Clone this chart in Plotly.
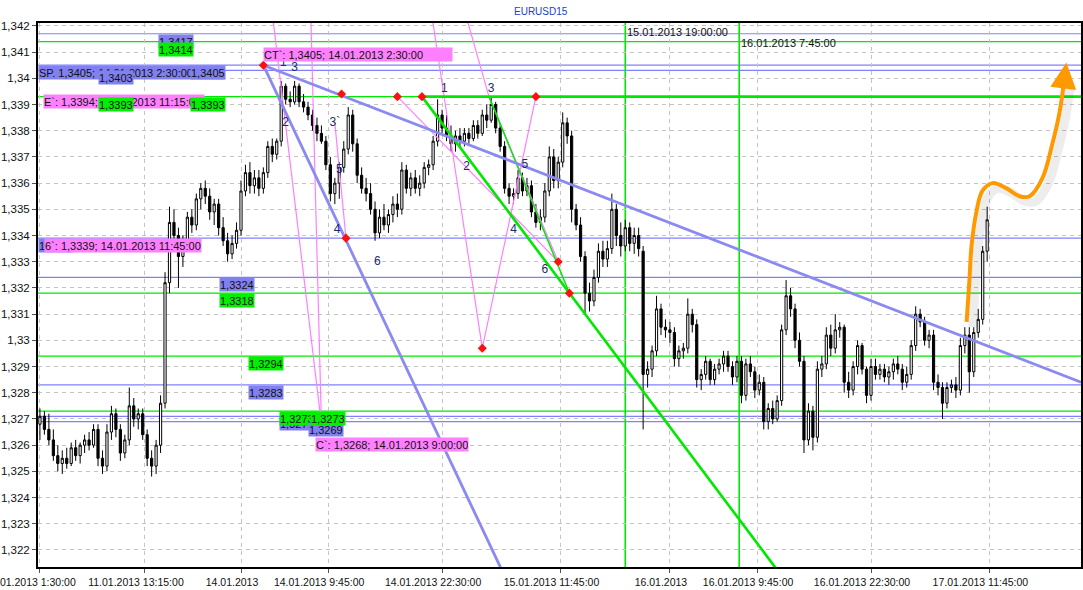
import pandas as pd
import plotly.graph_objects as go

# ---------------- data ----------------
bar_open = [
 1.3268,1.3271,1.3266,1.3262,1.3256,1.3253,1.3255,1.3253,1.3259,1.3256,
 1.3260,1.3262,1.3260,1.3266,1.3255,1.3252,1.3265,1.3272,1.3266,1.3257,
 1.3262,1.3275,1.3270,1.3272,1.3264,1.3255,1.3252,1.3260,1.3276,1.3322,
 1.3345,1.3340,1.3332,1.3338,1.3347,1.3344,1.3354,1.3358,1.3355,1.3349,
 1.3352,1.3343,1.3338,1.3333,1.3337,1.3342,1.3357,1.3364,1.3359,1.3362,
 1.3358,1.3364,1.3374,1.3371,1.3376,1.3397,1.3392,1.3391,1.3397,1.3391,
 1.3389,1.3386,1.3382,1.3379,1.3376,1.3367,1.3356,1.3360,1.3366,1.3373,
 1.3386,1.3375,1.3363,1.3358,1.3356,1.3350,1.3341,1.3347,1.3344,1.3348,
 1.3352,1.3350,1.3365,1.3358,1.3362,1.3358,1.3360,1.3366,1.3367,1.3376,
 1.3386,1.3381,1.3378,1.3375,1.3378,1.3376,1.3379,1.3377,1.3382,1.3379,
 1.3386,1.3384,1.3390,1.3381,1.3374,1.3358,1.3355,1.3356,1.3362,1.3357,
 1.3359,1.3349,1.3345,1.3347,1.3357,1.3370,1.3361,1.3368,1.3383,1.3378,
 1.3350,1.3344,1.3332,1.3318,1.3315,1.3324,1.3334,1.3331,1.3335,1.3350,
 1.3340,1.3336,1.3343,1.3337,1.3340,1.3334,1.3287,1.3289,1.3296,1.3312,
 1.3305,1.3304,1.3303,1.3293,1.3296,1.3297,1.3310,1.3306,1.3285,1.3287,
 1.3292,1.3285,1.3289,1.3291,1.3294,1.3290,1.3286,1.3292,1.3279,1.3291,
 1.3288,1.3281,1.3284,1.3269,1.3274,1.3270,1.3277,1.3304,1.3317,1.3312,
 1.3300,1.3292,1.3262,1.3273,1.3263,1.3289,1.3291,1.3302,1.3297,1.3304,
 1.3305,1.3284,1.3281,1.3290,1.3298,1.3289,1.3279,1.3290,1.3287,1.3289,
 1.3286,1.3288,1.3291,1.3289,1.3284,1.3287,1.3298,1.3310,1.3307,1.3300,
 1.3302,1.3284,1.3282,1.3276,1.3282,1.3283,1.3281,1.3298,1.3302,1.3288,
 1.3303,1.3308,1.3334]
bar_high = [
 1.3274,1.3273,1.3272,1.3266,1.3260,1.3258,1.3259,1.3261,1.3262,1.3261,
 1.3264,1.3265,1.3268,1.3268,1.3258,1.3268,1.3275,1.3274,1.3268,1.3264,
 1.3282,1.3278,1.3274,1.3274,1.3266,1.3258,1.3262,1.3279,1.3326,1.3351,
 1.3350,1.3343,1.3340,1.3349,1.3350,1.3356,1.3360,1.3361,1.3358,1.3354,
 1.3354,1.3347,1.3341,1.3340,1.3345,1.3361,1.3367,1.3368,1.3365,1.3365,
 1.3366,1.3376,1.3377,1.3377,1.3399,1.3398,1.3395,1.3399,1.3398,1.3394,
 1.3391,1.3388,1.3385,1.3382,1.3378,1.3370,1.3362,1.3368,1.3376,1.3389,
 1.3388,1.3377,1.3366,1.3362,1.3360,1.3353,1.3350,1.3352,1.3350,1.3355,
 1.3356,1.3368,1.3367,1.3364,1.3365,1.3363,1.3368,1.3369,1.3378,1.3392,
 1.3388,1.3386,1.3382,1.3380,1.3381,1.3381,1.3381,1.3384,1.3384,1.3388,
 1.3390,1.3393,1.3391,1.3383,1.3376,1.3360,1.3358,1.3365,1.3364,1.3362,
 1.3361,1.3352,1.3350,1.3360,1.3374,1.3373,1.3370,1.3387,1.3385,1.3380,
 1.3352,1.3347,1.3334,1.3322,1.3327,1.3337,1.3338,1.3338,1.3356,1.3352,
 1.3345,1.3346,1.3345,1.3343,1.3343,1.3336,1.3292,1.3298,1.3317,1.3314,
 1.3308,1.3307,1.3305,1.3298,1.3299,1.3316,1.3312,1.3308,1.3289,1.3294,
 1.3293,1.3291,1.3293,1.3296,1.3296,1.3292,1.3294,1.3294,1.3293,1.3294,
 1.3290,1.3287,1.3286,1.3276,1.3277,1.3279,1.3306,1.3323,1.3320,1.3314,
 1.3303,1.3294,1.3276,1.3275,1.3292,1.3294,1.3305,1.3306,1.3310,1.3307,
 1.3306,1.3288,1.3292,1.3300,1.3299,1.3290,1.3293,1.3293,1.3291,1.3291,
 1.3290,1.3293,1.3294,1.3291,1.3290,1.3300,1.3313,1.3312,1.3309,1.3304,
 1.3304,1.3287,1.3284,1.3284,1.3285,1.3286,1.3301,1.3305,1.3305,1.3305,
 1.3312,1.3336,1.3351]
bar_low = [
 1.3262,1.3264,1.3260,1.3254,1.3250,1.3249,1.3251,1.3252,1.3254,1.3253,
 1.3257,1.3258,1.3259,1.3252,1.3249,1.3250,1.3262,1.3263,1.3254,1.3255,
 1.3260,1.3267,1.3266,1.3262,1.3252,1.3248,1.3249,1.3257,1.3274,1.3318,
 1.3336,1.3320,1.3328,1.3336,1.3341,1.3342,1.3350,1.3352,1.3346,1.3344,
 1.3340,1.3336,1.3330,1.3331,1.3335,1.3340,1.3355,1.3356,1.3356,1.3355,
 1.3356,1.3362,1.3368,1.3369,1.3374,1.3390,1.3389,1.3390,1.3389,1.3387,
 1.3384,1.3380,1.3376,1.3375,1.3365,1.3353,1.3352,1.3354,1.3364,1.3371,
 1.3372,1.3360,1.3356,1.3353,1.3348,1.3338,1.3339,1.3342,1.3341,1.3345,
 1.3347,1.3348,1.3356,1.3355,1.3356,1.3355,1.3358,1.3363,1.3365,1.3374,
 1.3379,1.3376,1.3372,1.3372,1.3374,1.3374,1.3375,1.3376,1.3377,1.3378,
 1.3381,1.3383,1.3379,1.3372,1.3356,1.3352,1.3352,1.3354,1.3355,1.3355,
 1.3347,1.3343,1.3342,1.3345,1.3355,1.3358,1.3358,1.3366,1.3375,1.3345,
 1.3342,1.3330,1.3310,1.3311,1.3313,1.3322,1.3328,1.3328,1.3333,1.3336,
 1.3332,1.3334,1.3334,1.3333,1.3332,1.3266,1.3282,1.3286,1.3294,1.3302,
 1.3301,1.3299,1.3290,1.3290,1.3293,1.3295,1.3303,1.3282,1.3281,1.3285,
 1.3283,1.3283,1.3287,1.3288,1.3288,1.3283,1.3284,1.3276,1.3277,1.3286,
 1.3278,1.3279,1.3266,1.3266,1.3268,1.3269,1.3275,1.3302,1.3309,1.3297,
 1.3290,1.3257,1.3260,1.3258,1.3261,1.3286,1.3289,1.3294,1.3295,1.3301,
 1.3280,1.3278,1.3279,1.3287,1.3287,1.3276,1.3277,1.3285,1.3285,1.3284,
 1.3283,1.3285,1.3287,1.3281,1.3282,1.3285,1.3296,1.3305,1.3298,1.3297,
 1.3281,1.3279,1.3270,1.3274,1.3280,1.3278,1.3279,1.3295,1.3280,1.3286,
 1.3301,1.3306,1.3330]
bar_close = [
 1.3271,1.3266,1.3262,1.3256,1.3253,1.3255,1.3253,1.3259,1.3256,1.3260,
 1.3262,1.3260,1.3266,1.3255,1.3252,1.3265,1.3272,1.3266,1.3257,1.3262,
 1.3275,1.3270,1.3272,1.3264,1.3255,1.3252,1.3260,1.3276,1.3322,1.3345,
 1.3340,1.3332,1.3338,1.3347,1.3344,1.3354,1.3358,1.3355,1.3349,1.3352,
 1.3343,1.3338,1.3333,1.3337,1.3342,1.3357,1.3364,1.3359,1.3362,1.3358,
 1.3364,1.3374,1.3371,1.3376,1.3397,1.3392,1.3391,1.3397,1.3391,1.3389,
 1.3386,1.3382,1.3379,1.3376,1.3367,1.3356,1.3360,1.3366,1.3373,1.3386,
 1.3375,1.3363,1.3358,1.3356,1.3350,1.3341,1.3347,1.3344,1.3348,1.3352,
 1.3350,1.3365,1.3358,1.3362,1.3358,1.3360,1.3366,1.3367,1.3376,1.3386,
 1.3381,1.3378,1.3375,1.3378,1.3376,1.3379,1.3377,1.3382,1.3379,1.3386,
 1.3384,1.3390,1.3381,1.3374,1.3358,1.3355,1.3356,1.3362,1.3357,1.3359,
 1.3349,1.3345,1.3347,1.3357,1.3370,1.3361,1.3368,1.3383,1.3378,1.3350,
 1.3344,1.3332,1.3318,1.3315,1.3324,1.3334,1.3331,1.3335,1.3350,1.3340,
 1.3336,1.3343,1.3337,1.3340,1.3335,1.3287,1.3289,1.3296,1.3312,1.3305,
 1.3304,1.3303,1.3293,1.3296,1.3297,1.3310,1.3306,1.3285,1.3287,1.3292,
 1.3285,1.3289,1.3291,1.3294,1.3290,1.3286,1.3292,1.3279,1.3291,1.3288,
 1.3281,1.3284,1.3269,1.3274,1.3270,1.3277,1.3304,1.3317,1.3312,1.3300,
 1.3292,1.3262,1.3273,1.3263,1.3289,1.3291,1.3302,1.3297,1.3304,1.3305,
 1.3284,1.3281,1.3290,1.3298,1.3289,1.3279,1.3290,1.3287,1.3289,1.3286,
 1.3288,1.3291,1.3289,1.3284,1.3287,1.3298,1.3310,1.3307,1.3300,1.3302,
 1.3284,1.3282,1.3276,1.3282,1.3283,1.3281,1.3298,1.3302,1.3288,1.3303,
 1.3308,1.3334,1.3346]

# bar times: 30-minute bars, Friday 11.01 then from Monday 14.01 (weekend skipped)
friday = pd.date_range("2013-01-11 01:30", "2013-01-11 23:30", freq="30min")
rest = pd.date_range("2013-01-14 00:00", periods=len(bar_close) - len(friday), freq="30min")
bar_time = list(friday) + list(rest)

y_tick_vals = [1.322, 1.323, 1.324, 1.325, 1.326, 1.327, 1.328, 1.329, 1.330, 1.331,
               1.332, 1.333, 1.334, 1.335, 1.336, 1.337, 1.338, 1.339, 1.340, 1.341, 1.342]
y_tick_text = ["1,322", "1,323", "1,324", "1,325", "1,326", "1,327", "1,328", "1,329", "1,33", "1,331",
               "1,332", "1,333", "1,334", "1,335", "1,336", "1,337", "1,338", "1,339", "1,34", "1,341", "1,342"]
x_tick_vals = ["2013-01-11 01:30", "2013-01-11 13:15", "2013-01-14 00:00", "2013-01-14 09:45",
               "2013-01-14 22:30", "2013-01-15 11:45", "2013-01-16 00:00", "2013-01-16 09:45",
               "2013-01-16 22:30", "2013-01-17 11:45"]
x_tick_text = ["11.01.2013 1:30:00", "11.01.2013 13:15:00", "14.01.2013", "14.01.2013 9:45:00",
               "14.01.2013 22:30:00", "15.01.2013 11:45:00", "16.01.2013", "16.01.2013 9:45:00",
               "16.01.2013 22:30:00", "17.01.2013 11:45:00"]

# horizontal price levels
level_price = [1.3417, 1.3414, 1.3405, 1.3403, 1.3393, 1.3339, 1.3324, 1.3318, 1.3294, 1.3283, 1.3273, 1.3271, 1.3269]
level_kind = ["b", "g", "b", "b", "g", "b", "b", "g", "g", "b", "g", "b", "b"]

# vertical time lines
vline_time = ["2013-01-15 19:00", "2013-01-16 07:45"]
vline_text = ["15.01.2013 19:00:00", "16.01.2013 7:45:00"]

# price label boxes: text, kind, left time, top price, width
box_text = ["1,3417", "1,3414", "SP. 1,3405; 14.01.2013 2:30:00", "1,3403", "1,3405",
            "E`: 1,3394; 14.01.2013 11:15:00", "1,3393", "1,3393",
            "CT`: 1,3405; 14.01.2013 2:30:00", "1,3339", "6`: 1,3339; 14.01.2013 11:45:00",
            "1,3324", "1,3318", "1,3294", "1,3283", "1,3271", "1,3273", "1,3269", "1,3273",
            "C`: 1,3268; 14.01.2013 9:00:00"]
box_kind = ["b", "g", "b", "b", "b", "p", "g", "g", "p", "b", "p", "b", "g", "g", "b", "b", "g", "b", "g", "p"]
box_time = ["2013-01-11 14:45", "2013-01-11 14:45", "2013-01-11 01:17", "2013-01-11 08:00", "2013-01-11 18:15",
            "2013-01-11 01:50", "2013-01-11 08:00", "2013-01-11 18:15",
            "2013-01-14 02:30", "2013-01-11 01:17", "2013-01-11 01:55",
            "2013-01-11 21:30", "2013-01-11 21:30", "2013-01-14 00:45", "2013-01-14 00:45",
            "2013-01-14 04:15", "2013-01-14 04:15", "2013-01-14 07:30", "2013-01-14 07:45",
            "2013-01-14 08:15"]
box_price = [1.3417, 1.3414, 1.3405, 1.3403, 1.3405, 1.3394, 1.3393, 1.3393, 1.3412, 1.3339, 1.3339,
             1.3324, 1.3318, 1.3294, 1.3283, 1.3271, 1.3273, 1.3269, 1.3273, 1.3263]
box_width = [34, 34, 185, 34, 34, 160, 34, 34, 188, 34, 156, 34, 34, 34, 34, 34, 34, 34, 34, 152]

# trend lines
blue_lines = [
    (["2013-01-14 02:30", "2013-01-17 22:00"], [1.3405, 1.3284]),
    (["2013-01-14 02:30", "2013-01-15 06:45"], [1.3405, 1.3201]),
]
green_thick = [
    (["2013-01-14 20:15", "2013-01-16 14:30"], [1.3393, 1.3201]),
    (["2013-01-14 20:15", "2013-01-17 22:00"], [1.3393, 1.3393]),
]
green_thin = [(["2013-01-15 03:45", "2013-01-15 12:45"], [1.3393, 1.3318])]
pink_lines = [
    (["2013-01-14 03:15", "2013-01-14 09:00"], [1.3432, 1.3268]),
    (["2013-01-14 07:45", "2013-01-14 09:00"], [1.3432, 1.3268]),
    (["2013-01-14 10:30", "2013-01-14 11:45"], [1.3383, 1.3339]),
    (["2013-01-14 21:00", "2013-01-15 03:00", "2013-01-15 09:00"], [1.3432, 1.3297, 1.3393]),
    (["2013-01-14 17:30", "2013-01-15 11:30"], [1.3393, 1.3330]),
    (["2013-01-15 00:30", "2013-01-15 03:45", "2013-01-15 11:30"], [1.3432, 1.3393, 1.3330]),
]

dot_time = ["2013-01-14 02:30", "2013-01-14 11:15", "2013-01-14 11:45", "2013-01-14 17:30", "2013-01-14 20:15",
            "2013-01-15 09:00", "2013-01-15 03:00", "2013-01-15 11:30", "2013-01-15 12:45"]
dot_price = [1.3405, 1.3394, 1.3339, 1.3393, 1.3393, 1.3393, 1.3297, 1.3330, 1.3318]

wave_text = ["1", "3", "2", "3`", "5", "4", "6", "1", "3", "2", "5", "4", "6"]
wave_time = ["2013-01-14 04:45", "2013-01-14 06:00", "2013-01-14 05:00", "2013-01-14 10:30", "2013-01-14 11:00",
             "2013-01-14 10:45", "2013-01-14 15:15", "2013-01-14 22:45", "2013-01-15 04:00", "2013-01-15 01:15",
             "2013-01-15 07:45", "2013-01-15 06:30", "2013-01-15 10:00"]
wave_price = [1.3406, 1.3404, 1.3383, 1.3383, 1.3365, 1.3342, 1.3330, 1.3396, 1.3396, 1.3366, 1.3367, 1.3342, 1.3327]

arrow_time = ["2013-01-17 09:12", "2013-01-17 09:31", "2013-01-17 09:45", "2013-01-17 10:18", "2013-01-17 10:58",
              "2013-01-17 12:06", "2013-01-17 13:40", "2013-01-17 15:07", "2013-01-17 16:15", "2013-01-17 17:42",
              "2013-01-17 18:48", "2013-01-17 19:36", "2013-01-17 20:09"]
arrow_price = [1.3307, 1.3323, 1.3336, 1.3349, 1.3357, 1.3360, 1.3358, 1.3355, 1.3355, 1.3362,
               1.3375, 1.3387, 1.3400]
arrow_tip = ("2013-01-17 20:22", 1.3406)

# ---------------- styling ----------------
BLUE = "#8080ff"
GREEN = "#00e800"
PINK = "#ff80ff"
BOXC = {"b": "#8080f0", "g": "#00f000", "p": "#ff80ff"}
FONT = "Liberation Sans, Arial, sans-serif"

fig = go.Figure()

fig.add_trace(go.Candlestick(
    x=bar_time, open=bar_open, high=bar_high, low=bar_low, close=bar_close,
    increasing=dict(line=dict(color="black", width=1), fillcolor="white"),
    decreasing=dict(line=dict(color="black", width=1), fillcolor="black"),
    whiskerwidth=0, showlegend=False, hoverinfo="skip"))

shapes = []
for p, k in zip(level_price, level_kind):
    shapes.append(dict(type="line", xref="paper", x0=0, x1=1, yref="y", y0=p, y1=p,
                       line=dict(color=BLUE if k == "b" else GREEN, width=1.2), layer="below"))
for t in vline_time:
    shapes.append(dict(type="line", xref="x", x0=t, x1=t, yref="paper", y0=0, y1=1,
                       line=dict(color=GREEN, width=1.6), layer="below"))

for xs, ys in pink_lines:
    fig.add_trace(go.Scatter(x=xs, y=ys, mode="lines", line=dict(color=PINK, width=1.2),
                             showlegend=False, hoverinfo="skip"))
for xs, ys in green_thin:
    fig.add_trace(go.Scatter(x=xs, y=ys, mode="lines", line=dict(color=GREEN, width=1.5),
                             showlegend=False, hoverinfo="skip"))
for xs, ys in green_thick:
    fig.add_trace(go.Scatter(x=xs, y=ys, mode="lines", line=dict(color=GREEN, width=2.6),
                             showlegend=False, hoverinfo="skip"))
for xs, ys in blue_lines:
    fig.add_trace(go.Scatter(x=xs, y=ys, mode="lines", line=dict(color="#8a8af0", width=2.8),
                             showlegend=False, hoverinfo="skip"))

fig.add_trace(go.Scatter(x=dot_time, y=dot_price, mode="markers",
                         marker=dict(symbol="diamond", size=7, color="#ff1010"),
                         showlegend=False, hoverinfo="skip"))
fig.add_trace(go.Scatter(x=wave_time, y=wave_price, mode="text", text=wave_text,
                         textfont=dict(family=FONT, size=12, color="#1c2a6a"),
                         showlegend=False, hoverinfo="skip"))

# orange forecast arrow with soft shadow
shadow_t = [pd.Timestamp(t) + pd.Timedelta(minutes=40) for t in arrow_time]
shadow_p = [p - 0.0002 for p in arrow_price]
fig.add_trace(go.Scatter(x=shadow_t, y=shadow_p, mode="lines",
                         line=dict(color="rgba(0,0,0,0.07)", width=9, shape="spline"),
                         showlegend=False, hoverinfo="skip"))
fig.add_trace(go.Scatter(x=arrow_time, y=arrow_price, mode="lines", line=dict(color="#ff9900", width=4, shape="spline"),
                         showlegend=False, hoverinfo="skip"))

annotations = []
annotations.append(dict(x=arrow_tip[0], y=arrow_tip[1], xref="x", yref="y", ax=arrow_time[-1], ay=arrow_price[-1],
                        axref="x", ayref="y", showarrow=True, arrowhead=2, arrowsize=1.3, arrowwidth=4,
                        arrowcolor="#ff9900", text=""))
for txt, k, t, p, w in zip(box_text, box_kind, box_time, box_price, box_width):
    annotations.append(dict(x=t, y=p, xref="x", yref="y", xanchor="left", yanchor="top", text=txt,
                            showarrow=False, bgcolor=BOXC[k], width=w, height=13, align="left",
                            borderpad=0, font=dict(family=FONT, size=11, color="#111111")))
for i, (t, txt) in enumerate(zip(vline_time, vline_text)):
    annotations.append(dict(x=t, y=1, xref="x", yref="paper", xanchor="left", yanchor="top",
                            yshift=-1 - 11 * i, text=txt, showarrow=False,
                            font=dict(family=FONT, size=11, color="#111111")))
annotations.append(dict(x=0.482, y=1, xref="paper", yref="paper", yanchor="bottom", yshift=4,
                        text="EURUSD15", showarrow=False, font=dict(family=FONT, size=10, color="#2040c8")))

fig.update_layout(
    width=1083, height=590, margin=dict(l=38, r=2, t=23, b=23, autoexpand=False),
    paper_bgcolor="white", plot_bgcolor="white", hovermode=False,
    shapes=shapes, annotations=annotations, showlegend=False,
    xaxis=dict(type="date", range=["2013-01-11 01:17", "2013-01-17 22:00"],
               rangebreaks=[dict(bounds=["sat", "mon"])],
               rangeslider=dict(visible=False), automargin=False,
               tickmode="array", tickvals=x_tick_vals, ticktext=x_tick_text,
               ticks="outside", ticklen=4, tickcolor="#555555", ticklabelshift=-9,
               ticklabeloverflow="allow",
               tickfont=dict(family=FONT, size=10.5, color="#111111"),
               showgrid=True, gridcolor="#c4c4c4", griddash="4px,4px", gridwidth=1,
               showline=True, linecolor="black", linewidth=2, mirror=True, zeroline=False),
    yaxis=dict(range=[1.32135, 1.34211], tickmode="array", tickvals=y_tick_vals, ticktext=y_tick_text,
               automargin=False,
               ticks="outside", ticklen=4, tickcolor="#555555",
               tickfont=dict(family=FONT, size=11.5, color="#111111"),
               showgrid=True, gridcolor="#c4c4c4", griddash="4px,4px", gridwidth=1,
               showline=True, linecolor="black", linewidth=2, mirror=True, zeroline=False),
)

fig.write_html("out.html", config={"displayModeBar": False},
               post_script="document.body.style.margin='0';document.body.style.padding='0';")
